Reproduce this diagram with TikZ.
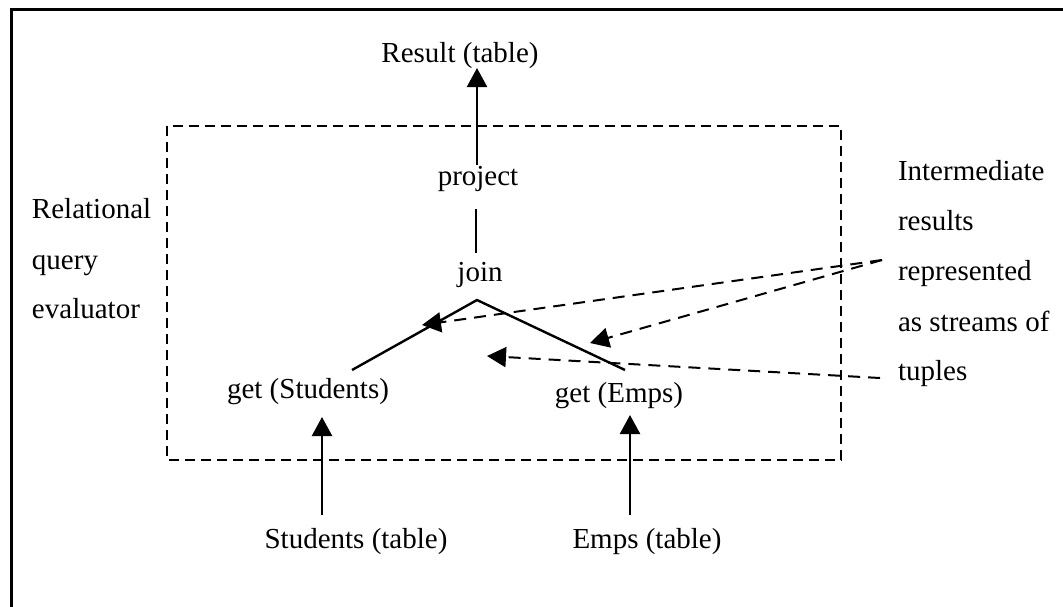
\documentclass[tikz,border=0pt]{standalone}
\usepackage{fontspec}
\setmainfont{Liberation Serif}
\usetikzlibrary{arrows.meta}
\begin{document}
\begin{tikzpicture}[x=0.5pt,y=-0.5pt,
  lbl/.style={inner sep=0pt,outer sep=0pt,font=\fontsize{14.5}{17}\selectfont},
  solid arrow/.style={line width=1.2pt,-{Triangle[length=9.5pt,width=10pt]}},
  flow/.style={line width=1.2pt},
  stream/.style={line width=1pt,dash pattern=on 6pt off 4pt,-{Triangle[length=9.5pt,width=10pt]}},
  evalbox/.style={line width=1pt,dash pattern=on 5pt off 3pt}]
\useasboundingbox (0,0) rectangle (1063,606);
\clip (0,0) rectangle (1063,606);
% outer frame
\draw[line width=1.5pt] (11,9) rectangle (1100,650);
% evaluator boundary
\draw[evalbox] (167,126) rectangle (841,460);

% operator labels
\node[lbl,anchor=base] (res)  at (460,62)  {Result (table)};
\node[lbl,anchor=base] (proj) at (478,185) {project};
\node[lbl,anchor=base] (join) at (480,281) {join};
\node[lbl,anchor=base] (gs)   at (308,398) {get (Students)};
\node[lbl,anchor=base] (ge)   at (619,402) {get (Emps)};
\node[lbl,anchor=base] (st)   at (356,548) {Students (table)};
\node[lbl,anchor=base] (et)   at (647,548) {Emps (table)};

% side captions
\node[lbl,anchor=base west] (rq1) at (32,218) {Relational};
\node[lbl,anchor=base west] (rq2) at (32,269) {query};
\node[lbl,anchor=base west] (rq3) at (32,318) {evaluator};
\node[lbl,anchor=base west] (im1) at (898,180) {Intermediate};
\node[lbl,anchor=base west] (im2) at (898,230) {results};
\node[lbl,anchor=base west] (im3) at (898,280) {represented};
\node[lbl,anchor=base west] (im4) at (898,331) {as streams of};
\node[lbl,anchor=base west] (im5) at (898,380) {tuples};

% connector end points
\coordinate (projtop) at (477,165);
\coordinate (restip)  at (477,68);
\coordinate (pjtop)   at (476,209);
\coordinate (pjbot)   at (476,253);
\coordinate (apex)    at (477,300);
\coordinate (legL)    at (352,370);
\coordinate (legR)    at (625,370);
\coordinate (sbot)    at (322,515);
\coordinate (stip)    at (322,417);
\coordinate (ebot)    at (630,515);
\coordinate (etip)    at (630,415);
\coordinate (src1)    at (882,260);
\coordinate (src2)    at (880,378);
\coordinate (dstL)    at (422,325);
\coordinate (dstR)    at (590,343);
\coordinate (dstM)    at (487,356);

% data flow
\draw[solid arrow] (projtop) -- (restip);
\draw[flow] (pjtop) -- (pjbot);
\draw[flow] (legL) -- (apex) -- (legR);
\draw[solid arrow] (sbot) -- (stip);
\draw[solid arrow] (ebot) -- (etip);

% pointers to the intermediate streams
\draw[stream] (src1) -- (dstL);
\draw[stream] (src1) -- (dstR);
\draw[stream] (src2) -- (dstM);
\end{tikzpicture}
\end{document}
